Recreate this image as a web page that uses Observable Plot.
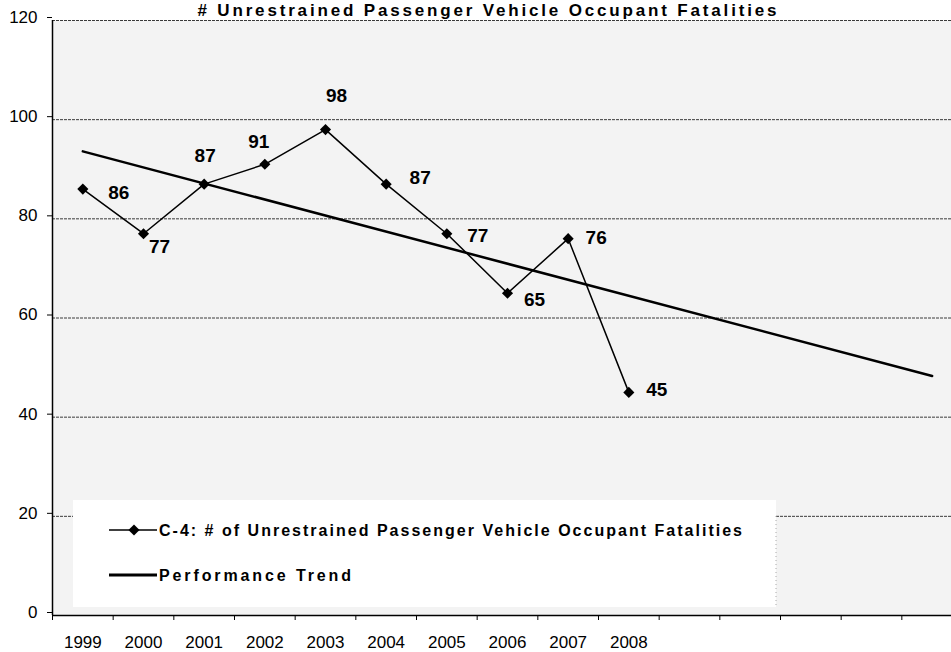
<!DOCTYPE html>
<html><head><meta charset="utf-8">
<script src="https://cdn.jsdelivr.net/npm/d3@7"></script>
<script src="https://cdn.jsdelivr.net/npm/@observablehq/plot@0.6"></script>
<style>
html,body{margin:0;padding:0;background:#fff;overflow:hidden;}
#wrap{position:relative;width:951px;height:652px;}
#overlay{position:absolute;left:0;top:0;pointer-events:none;}
</style></head><body><div id="wrap"></div>
<script>
// ---- data ----
const years = [1999, 2000, 2001, 2002, 2003, 2004, 2005, 2006, 2007, 2008];
const fatalities = [86, 77, 87, 91, 98, 87, 77, 65, 76, 45];
const trendYears = [1999, 2013];
const trendValues = [93.6, 48.3];
const yTicks = [0, 20, 40, 60, 80, 100, 120];
const xTickLabels = ["1999", "2000", "2001", "2002", "2003", "2004", "2005", "2006", "2007", "2008"];
const categoryYears = [1999, 2000, 2001, 2002, 2003, 2004, 2005, 2006, 2007, 2008, 2009, 2010, 2011, 2012, 2013];
const labelDx = [36, 16, 1, -6, 11, 34, 31, 27, 28, 28];
const labelDy = [4, 13, -28, -22, -34, -6, 2, 7, -1, -2];
const titleText = "# Unrestrained Passenger Vehicle Occupant Fatalities";
const seriesName = "C-4: # of Unrestrained Passenger Vehicle Occupant Fatalities";
const trendName = "Performance Trend";

const data = years.map((y, i) => ({year: y, value: fatalities[i]}));
const trend = trendYears.map((y, i) => ({year: y, value: trendValues[i]}));
const edges = [categoryYears[0] - 0.5, ...categoryYears.map(y => y + 0.5)];
const labelOf = new Map(years.map((y, i) => [y, xTickLabels[i]]));

const font = "'Liberation Sans', Arial, sans-serif";

const chart = Plot.plot({
  width: 951,
  height: 652,
  marginLeft: 52,
  marginRight: 0,
  marginTop: 20,
  marginBottom: 37,
  style: {fontFamily: font, fontSize: "17px", color: "black", background: "white"},
  x: {type: "linear", domain: [edges[0], edges[edges.length - 1]], range: [52, 962]},
  y: {domain: [0, 120]},
  marks: [
    Plot.frame({fill: "#f3f3f3", stroke: null}),
    Plot.ruleY(yTicks.filter(d => d > 0), {stroke: "#3a3a3a", strokeWidth: 1, strokeDasharray: "3,1"}),
    Plot.line(trend, {x: "year", y: "value", stroke: "black", strokeWidth: 2.5}),
    Plot.line(data, {x: "year", y: "value", stroke: "black", strokeWidth: 1.5}),
    Plot.dot(data, {x: "year", y: "value", symbol: "diamond2", r: 5, fill: "black", stroke: null}),
    ...data.map((d, i) => Plot.text([d], {
      x: "year", y: "value", text: e => String(e.value),
      dx: labelDx[i], dy: labelDy[i], fontWeight: "bold", fontSize: 19, fill: "black"
    })),
    Plot.ruleY([0], {stroke: "black", strokeWidth: 1.5}),
    Plot.ruleX([edges[0]], {stroke: "black", strokeWidth: 1.5}),
    Plot.axisY({ticks: yTicks, tickSize: 5, tickPadding: 10, fontSize: 17, tickFormat: d => String(d), dy: -3, label: null}),
    Plot.axisX({ticks: edges, tickSize: 5, tickFormat: () => "", label: null}),
    Plot.axisX({ticks: years, tickSize: 0, tickPadding: 20, fontSize: 17, tickFormat: d => labelOf.get(d), label: null})
  ]
});

const wrap = document.getElementById("wrap");
wrap.appendChild(chart);

// overlay: title + legend box
const ov = d3.select(wrap).append("svg").attr("id", "overlay")
  .attr("width", 951).attr("height", 652);

ov.append("text").attr("x", 487).attr("y", 16)
  .attr("text-anchor", "middle").attr("font-family", font)
  .attr("font-weight", "bold").attr("font-size", 17)
  .attr("textLength", 579).attr("lengthAdjust", "spacing")
  .text(titleText);

const lg = ov.append("g");
lg.append("rect").attr("x", 73).attr("y", 500).attr("width", 703).attr("height", 107).attr("fill", "white");
lg.append("line").attr("x1", 776).attr("x2", 776).attr("y1", 516).attr("y2", 607)
  .attr("stroke", "#aaa").attr("stroke-dasharray", "1,3");
lg.append("line").attr("x1", 109).attr("x2", 157).attr("y1", 530).attr("y2", 530)
  .attr("stroke", "black").attr("stroke-width", 1.5);
lg.append("path").attr("transform", "translate(134,530)")
  .attr("d", d3.symbol(d3.symbolDiamond2, Math.PI * 25)()).attr("fill", "black");
lg.append("text").attr("x", 159).attr("y", 536).attr("font-family", font)
  .attr("font-weight", "bold").attr("font-size", 16)
  .attr("textLength", 583).attr("lengthAdjust", "spacing").text(seriesName);
lg.append("line").attr("x1", 109).attr("x2", 157).attr("y1", 575).attr("y2", 575)
  .attr("stroke", "black").attr("stroke-width", 3);
lg.append("text").attr("x", 159).attr("y", 581).attr("font-family", font)
  .attr("font-weight", "bold").attr("font-size", 16)
  .attr("textLength", 192).attr("lengthAdjust", "spacing").text(trendName);
</script>
</body></html>
